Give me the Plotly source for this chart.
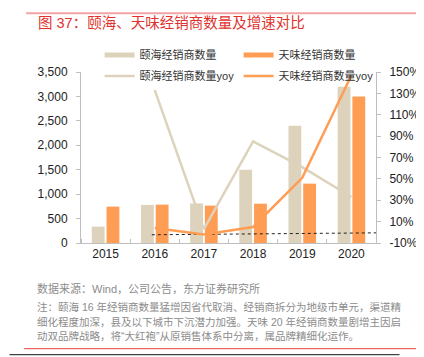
import plotly.graph_objects as go

# ---------------- data ----------------
years = ["2015", "2016", "2017", "2018", "2019", "2020"]
yihai_dealers = [335, 780, 810, 1500, 2400, 3200]
tianwei_dealers = [745, 785, 765, 805, 1215, 3000]
yoy_years_idx = [1, 2, 3, 4, 5]
yihai_yoy = [133, 3, 85, 61, 33]
tianwei_yoy = [4, -2, 5, 51, 147]
ref_x = [0.94, 5.5]
ref_y = [-2.3, -0.5]
left_ticks = [0, 500, 1000, 1500, 2000, 2500, 3000, 3500]
right_ticks = [-10, 10, 30, 50, 70, 90, 110, 130, 150]
right_tick_text = [f"{v}%" for v in right_ticks]

title_text = "图 37：颐海、天味经销商数量及增速对比"
source_text = "数据来源：Wind，公司公告，东方证券研究所"
note_lines = [
    "注：颐海 16 年经销商数量猛增因省代取消、经销商拆分为地级市单元，渠道精",
    "细化程度加深，县及以下城市下沉潜力加强。天味 20 年经销商数量剧增主因启",
    "动双品牌战略，将“大红袍”从原销售体系中分离，属品牌精细化运作。",
]
footer_text = "有关分析师的申明，见本报告最后部分。其他重要信息披露见分析师申明之后部分，或请与您的投资代表联系。"

# ---------------- style ----------------
BEIGE = "#DDD3BC"
ORANGE = "#FF9D55"
AXIS = "#BFBFBF"
CLEAR = "rgba(0,0,0,0)"
FONT = "Liberation Sans, Arial, Noto Sans CJK SC, sans-serif"

WIDTH, HEIGHT = 424, 357
L, R, T, B = 73, 374, 64, 235.5


def px(x):
    return (x - L) / (R - L)


def py(y):
    return (B - y) / (B - T)


idx = list(range(len(years)))

fig = go.Figure()
fig.add_trace(go.Bar(x=idx, y=yihai_dealers, marker=dict(color=BEIGE, line_width=0),
                     name="颐海经销商数量", showlegend=False))
fig.add_trace(go.Bar(x=idx, y=tianwei_dealers, marker=dict(color=ORANGE, line_width=0),
                     name="天味经销商数量", showlegend=False))
fig.add_trace(go.Scatter(x=ref_x, y=ref_y, yaxis="y2", mode="lines",
                         line=dict(color="#222222", width=1, dash="3px,3px"),
                         showlegend=False, hoverinfo="skip"))
fig.add_trace(go.Scatter(x=yoy_years_idx, y=yihai_yoy, yaxis="y2", mode="lines",
                         line=dict(color=BEIGE, width=2.5), name="颐海经销商数量yoy",
                         legend="legend2"))
fig.add_trace(go.Scatter(x=yoy_years_idx, y=tianwei_yoy, yaxis="y2", mode="lines",
                         line=dict(color=ORANGE, width=2.5), name="天味经销商数量yoy",
                         legend="legend2"))
# legend swatches for bars (wide bands as in reference)
fig.add_trace(go.Scatter(x=[None], y=[None], mode="lines", line=dict(color=BEIGE, width=5),
                         name="颐海经销商数量", legend="legend"))
fig.add_trace(go.Scatter(x=[None], y=[None], mode="lines", line=dict(color=ORANGE, width=5),
                         name="天味经销商数量", legend="legend"))

legend_common = dict(orientation="h", entrywidth=94, entrywidthmode="pixels",
                     bgcolor="rgba(0,0,0,0)", font=dict(size=11, color="#333333", family=FONT),
                     xanchor="left", yanchor="middle", itemclick=False)

tickfont = dict(size=12, color="#222222")

fig.update_layout(
    width=WIDTH, height=HEIGHT,
    margin=dict(l=L, r=WIDTH - R, t=T, b=HEIGHT - B, pad=0),
    paper_bgcolor="white", plot_bgcolor="white",
    font=dict(family=FONT, size=12, color="#222222"),
    barmode="group", bargap=0.4, bargroupgap=0.13,
    showlegend=True,
    legend=dict(x=px(92), y=py(47), **legend_common),
    legend2=dict(x=px(92), y=py(68), **legend_common),
    xaxis=dict(range=[-0.5, 5.5], tickmode="array", tickvals=idx, ticktext=years,
               ticks="", showline=True, linecolor=AXIS, linewidth=1, showgrid=False,
               zeroline=False,
               minor=dict(tick0=0.5, dtick=1, ticks="inside", ticklen=4, tickcolor=AXIS, showgrid=False),
               tickfont=tickfont),
    # label-carrying axes (long transparent ticks set the label gap)
    yaxis=dict(range=[0, 3500], tickmode="array", tickvals=left_ticks, tickformat=",",
               ticks="outside", ticklen=10, tickcolor=CLEAR, showline=True, linecolor=AXIS,
               linewidth=1, showgrid=False, zeroline=False, tickfont=tickfont),
    yaxis2=dict(range=[-10, 150], tickmode="array", tickvals=right_ticks, ticktext=right_tick_text,
                overlaying="y", side="right", ticks="outside", ticklen=10, tickcolor=CLEAR,
                showline=True, linecolor=AXIS, linewidth=1, showgrid=False, zeroline=False,
                tickfont=tickfont),
    # visible short tick marks
    yaxis3=dict(range=[0, 3500], tickmode="array", tickvals=left_ticks, overlaying="y",
                side="left", ticks="outside", ticklen=4, tickcolor=AXIS, showticklabels=False,
                showline=False, showgrid=False, zeroline=False),
    yaxis4=dict(range=[-10, 150], tickmode="array", tickvals=right_ticks, overlaying="y",
                side="right", ticks="outside", ticklen=4, tickcolor=AXIS, showticklabels=False,
                showline=False, showgrid=False, zeroline=False),
)
# invisible anchors so the tick-only axes are drawn
fig.add_trace(go.Scatter(x=[None], y=[None], yaxis="y3", showlegend=False, hoverinfo="skip"))
fig.add_trace(go.Scatter(x=[None], y=[None], yaxis="y4", showlegend=False, hoverinfo="skip"))

shapes = [
    dict(type="line", xref="paper", yref="paper", x0=px(17), x1=px(424), y0=py(5), y1=py(5),
         line=dict(color="#F2A3A3", width=2)),
    dict(type="line", xref="paper", yref="paper", x0=px(15), x1=px(424), y0=py(341.5), y1=py(341.5),
         line=dict(color="#E8413C", width=1)),
    dict(type="line", xref="paper", yref="paper", x0=px(0), x1=px(398), y0=py(347.5), y1=py(347.5),
         line=dict(color="#444444", width=1.2)),
]
fig.update_layout(shapes=shapes)

anns = [
    dict(text=title_text, x=px(27), y=py(15), xanchor="left", yanchor="middle",
         font=dict(size=14.5, color="#E0322D", family=FONT)),
    dict(text=source_text, x=px(26), y=py(281), xanchor="left", yanchor="middle",
         font=dict(size=11, color="#8C8C8C", family=FONT)),
]
for i, line in enumerate(note_lines):
    anns.append(dict(text=line, x=px(26), y=py(300 + 14.5 * i), xanchor="left", yanchor="middle",
                     font=dict(size=10.5, color="#8C8C8C", family=FONT)))
anns.append(dict(text=footer_text, x=px(15), y=py(352), xanchor="left", yanchor="top",
                 font=dict(size=13, color="#222222", family=FONT)))
for a in anns:
    a.update(xref="paper", yref="paper", showarrow=False)
fig.update_layout(annotations=anns)

fig.write_html("out.html")
